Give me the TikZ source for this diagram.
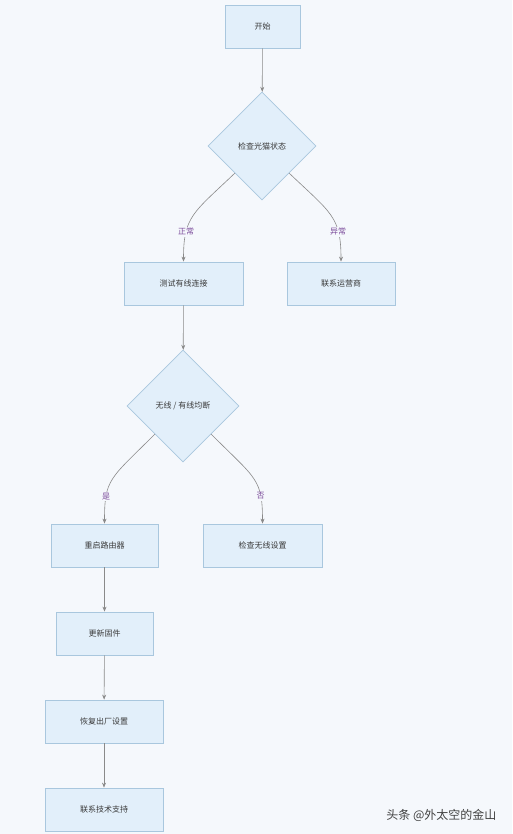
\documentclass[tikz,border=0pt]{standalone}
\usepackage{fontspec}
\newfontfamily\cjk{Noto Sans CJK SC}
\usetikzlibrary{shapes.geometric,arrows.meta}
\definecolor{bgc}{HTML}{F5F8FC}
\definecolor{boxfill}{HTML}{E2EFFA}
\definecolor{boxline}{HTML}{A9C7DE}
\definecolor{txt}{HTML}{3A3A3A}
\definecolor{lab}{HTML}{7A4A9A}
\definecolor{edge}{HTML}{8A8A8A}
\tikzset{
  x=1pt, y=-1pt,
  every node/.style={font=\cjk\fontsize{8}{10}\selectfont, text=txt},
  stepbox/.style={draw=boxline, fill=boxfill, line width=0.8pt, rectangle, minimum height=43pt, inner sep=0pt},
  decide/.style={draw=boxline, fill=boxfill, line width=0.8pt, diamond, aspect=1, minimum width=108pt, minimum height=108pt, inner sep=0pt},
  conn/.style={draw=edge, line width=0.6pt, -{Stealth[length=5pt,width=4pt]}},
  elab/.style={font=\cjk\fontsize{8}{10}\selectfont, text=lab, fill=bgc, inner sep=1pt}
}
\begin{document}
\begin{tikzpicture}
\fill[bgc] (0,0) rectangle (512,834);
\useasboundingbox (0,0) rectangle (512,834);

\node[stepbox, minimum width=75pt] (start) at (262.5,26.5) {开始};
\node[decide] (d1) at (262,146) {检查光猫状态};
\node[stepbox, minimum width=119pt] (wired) at (183.5,283.5) {测试有线连接};
\node[stepbox, minimum width=108pt] (isp) at (341,283.5) {联系运营商};
\node[decide, minimum width=112pt, minimum height=112pt] (d2) at (183,406) {无线 / 有线均断};
\node[stepbox, minimum width=107pt] (reboot) at (104.5,545.5) {重启路由器};
\node[stepbox, minimum width=119pt] (wifi) at (262.5,545.5) {检查无线设置};
\node[stepbox, minimum width=97pt] (fw) at (104.5,633.5) {更新固件};
\node[stepbox, minimum width=118pt] (reset) at (104,721.5) {恢复出厂设置};
\node[stepbox, minimum width=118pt] (support) at (104,809.5) {联系技术支持};

\draw[conn] (start) -- (d1);
\draw[conn] (d1.south west) .. controls +(-42,40) and +(0,-45) .. node[elab, pos=0.72] {正常} (wired.north);
\draw[conn] (d1.south east) .. controls +(42,40) and +(0,-45) .. node[elab, pos=0.72] {异常} (isp.north);
\draw[conn] (wired) -- (d2);
\draw[conn] (d2.south west) .. controls +(-45,45) and +(0,-45) .. node[elab, pos=0.74] {是} (reboot.north);
\draw[conn] (d2.south east) .. controls +(45,45) and +(0,-45) .. node[elab, pos=0.74] {否} (wifi.north);
\draw[conn] (reboot) -- (fw);
\draw[conn] (fw) -- (reset);
\draw[conn] (reset) -- (support);

\node[font=\cjk\fontsize{12}{14}\selectfont, text=black!75, anchor=east] (wm) at (500,815) {头条 @外太空的金山};
\end{tikzpicture}
\end{document}
